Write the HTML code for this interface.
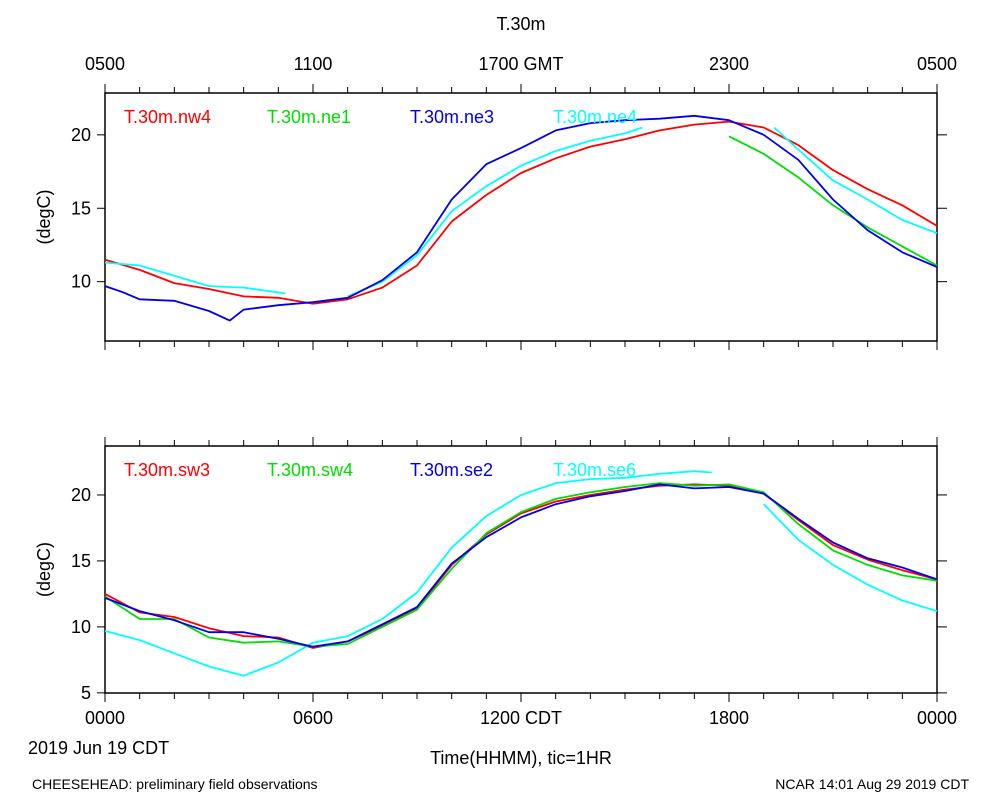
<!DOCTYPE html>
<html><head><meta charset="utf-8"><style>
body{margin:0;background:#fff;}
svg{font-family:"Liberation Sans",sans-serif;}
</style></head><body>
<svg id="chart" width="1000" height="800" xmlns="http://www.w3.org/2000/svg">
<text x="521" y="30" font-size="18" text-anchor="middle">T.30m</text>
<text x="521" y="70" font-size="18" text-anchor="middle">1700 GMT</text>
<text x="105" y="70" font-size="18" text-anchor="middle">0500</text>
<text x="313" y="70" font-size="18" text-anchor="middle">1100</text>
<text x="729" y="70" font-size="18" text-anchor="middle">2300</text>
<text x="937" y="70" font-size="18" text-anchor="middle">0500</text>
<text x="105" y="724" font-size="18" text-anchor="middle">0000</text>
<text x="313" y="724" font-size="18" text-anchor="middle">0600</text>
<text x="521" y="724" font-size="18" text-anchor="middle">1200 CDT</text>
<text x="729" y="724" font-size="18" text-anchor="middle">1800</text>
<text x="937" y="724" font-size="18" text-anchor="middle">0000</text>
<text x="28" y="754" font-size="18">2019 Jun 19 CDT</text>
<text x="521" y="764" font-size="18" text-anchor="middle">Time(HHMM), tic=1HR</text>
<text x="32" y="789" font-size="14">CHEESEHEAD: preliminary field observations</text>
<text x="969" y="789" font-size="14" text-anchor="end">NCAR 14:01 Aug 29 2019 CDT</text>
</svg>
<script>
const hours=[0,1,2,3,4,5,6,7,8,9,10,11,12,13,14,15,16,17,18,19,20,21,22,23,24];
const nw4=[11.5,10.8,9.9,9.5,9.0,8.9,8.5,8.8,9.6,11.1,14.1,15.9,17.4,18.4,19.2,19.7,20.3,20.7,20.9,20.5,19.3,17.6,16.3,15.2,13.8];
const ne1Hours=[18,19,20,21,22,23,24];
const ne1=[19.9,18.7,17.1,15.2,13.7,12.4,11.1];
const ne3Hours=[0,0.5,1,2,3,3.6,4,5,6,7,8,9,10,11,12,13,14,15,16,17,18,19,20,21,22,23,24];
const ne3=[9.7,9.3,8.8,8.7,8.0,7.35,8.1,8.4,8.6,8.9,10.1,12.0,15.6,18.0,19.1,20.3,20.8,21.0,21.1,21.3,21.0,20.0,18.3,15.6,13.5,12.0,11.0];
const ne4Hours=[0,1,2,3,4,5.2,null,7,8,9,10,11,12,13,14,15,15.5,null,19.3,20,21,22,23,24];
const ne4=[11.3,11.1,10.4,9.7,9.6,9.2,null,9.0,10.0,11.8,14.8,16.5,17.9,18.9,19.6,20.1,20.5,null,20.5,19.0,16.9,15.6,14.2,13.3];
const sw3=[12.5,11.1,10.75,9.9,9.3,9.2,8.4,8.9,10.1,11.4,14.7,17.0,18.6,19.5,20.0,20.4,20.7,20.8,20.7,20.1,18.1,16.2,15.1,14.3,13.6];
const sw4=[12.3,10.6,10.6,9.2,8.8,8.9,8.5,8.7,10.0,11.3,14.4,17.1,18.7,19.7,20.2,20.6,20.9,20.7,20.8,20.2,17.8,15.8,14.7,13.9,13.5];
const se2=[12.2,11.2,10.5,9.6,9.6,9.1,8.5,8.9,10.2,11.5,14.8,16.8,18.3,19.3,19.9,20.3,20.8,20.5,20.6,20.1,18.2,16.4,15.2,14.5,13.6];
const se6Hours=[0,1,2,3,4,5,6,7,8,9,10,11,12,13,14,15,16,17,17.5,null,19,20,21,22,23,24];
const se6=[9.7,9.0,8.0,7.0,6.3,7.3,8.8,9.3,10.6,12.6,16.0,18.4,20.0,20.9,21.2,21.3,21.6,21.8,21.7,null,19.3,16.6,14.7,13.2,12.0,11.2];
const topTicks=[10,15,20];
const botTicks=[5,10,15,20];

const svg=document.getElementById('chart');
const NS='http://www.w3.org/2000/svg';
const X0=105,X1=937;
function xs(h){return X0+(X1-X0)*h/24;}
function mk(tag,attrs){const e=document.createElementNS(NS,tag);for(const k in attrs)e.setAttribute(k,attrs[k]);svg.appendChild(e);return e;}
function panel(p,top,bot,vTop,vBot,ticks,series,labels){
  const ys=v=>top+(vTop-v)/(vTop-vBot)*(bot-top);
  const fr=mk('rect',{x:X0,y:top,width:X1-X0,height:bot-top,fill:'none',stroke:'#000','stroke-width':1.5});
  
  
  for(let h=0;h<=24;h++){
    const L=h%6===0?9:6;
    const t1=mk('line',{x1:xs(h),x2:xs(h),y1:top-L,y2:top,stroke:'#000'});
    
    
    const t2=mk('line',{x1:xs(h),x2:xs(h),y1:bot,y2:bot+L,stroke:'#000'});
    
    
  }
  ticks.forEach(v=>{
    const y=ys(v);
    const a=mk('line',{x1:X0-8,x2:X0,y1:y,y2:y,stroke:'#000'});
    
    
    const b=mk('line',{x1:X1,x2:X1+10,y1:y,y2:y,stroke:'#000'});
    
    
    const t=mk('text',{x:X0-14,y:y+6,'font-size':18,'text-anchor':'end'});
    t.textContent=v;
    
    
  });
  const yt=mk('text',{x:50,y:(top+bot)/2,'font-size':18,'text-anchor':'middle',transform:'rotate(-90 50 '+(top+bot)/2+')'});
  yt.textContent='(degC)';
  
  
  series.forEach(s=>{
    let d='',pen=false;
    s.h.forEach((h,i)=>{
      const v=s.v[i];
      if(h===null||v===null){pen=false;return;}
      d+=(pen?'L':'M')+xs(h).toFixed(1)+' '+ys(v).toFixed(1);pen=true;
    });
    const path=mk('path',{d:d,fill:'none',stroke:s.c,'stroke-width':1.8,'stroke-linejoin':'round'});
    
    
  });
  labels.forEach((l,i)=>{
    const t=mk('text',{x:[124,267,410,553][i],y:top+30,'font-size':18,fill:l.c});
    t.textContent=l.t;
    
    
  });
}
const topSeries=[
 {n:'nw4',h:hours,v:nw4,c:'#ff0000'},
 {n:'ne1',h:ne1Hours,v:ne1,c:'#00dd00'},
 {n:'ne4',h:ne4Hours,v:ne4,c:'#00ffff'},
 {n:'ne3',h:ne3Hours,v:ne3,c:'#0000ee'}];
panel('top-panel',93,341,22.85,5.96,topTicks,topSeries,
 [{t:'T.30m.nw4',c:'#ff0000'},{t:'T.30m.ne1',c:'#00dd00'},{t:'T.30m.ne3',c:'#0000ee'},{t:'T.30m.ne4',c:'#00ffff'}]);
const botSeries=[
 {n:'se6',h:se6Hours,v:se6,c:'#00ffff'},
 {n:'sw3',h:hours,v:sw3,c:'#ff0000'},
 {n:'sw4',h:hours,v:sw4,c:'#00dd00'},
 {n:'se2',h:hours,v:se2,c:'#0000ee'}];
panel('bottom-panel',446,693,23.71,4.99,botTicks,botSeries,
 [{t:'T.30m.sw3',c:'#ff0000'},{t:'T.30m.sw4',c:'#00dd00'},{t:'T.30m.se2',c:'#0000ee'},{t:'T.30m.se6',c:'#00ffff'}]);
</script>
</body></html>
